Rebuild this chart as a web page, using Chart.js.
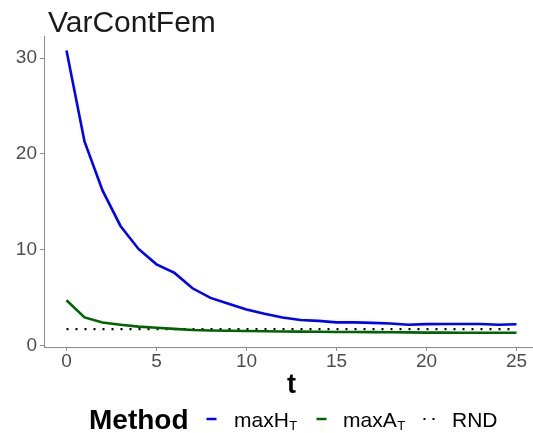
<!DOCTYPE html>
<html>
<head>
<meta charset="utf-8">
<script src="https://cdn.jsdelivr.net/npm/chart.js@4.4.1/dist/chart.umd.min.js"></script>
<style>
  html, body { margin: 0; padding: 0; overflow: hidden; background: #fff; }
  #wrap { width: 546px; height: 433px; }
</style>
</head>
<body>
<div id="wrap"><canvas id="c" width="546" height="433"></canvas></div>
<script>
// ---- Data ----
const chartTitle = "VarContFem";
const xAxisTitle = "t";
const legendTitle = "Method";
const tValues = [0,1,2,3,4,5,6,7,8,9,10,11,12,13,14,15,16,17,18,19,20,21,22,23,24,25];
const maxH = [30.8, 21.3, 16.2, 12.5, 10.1, 8.5, 7.6, 6.0, 5.0, 4.4, 3.8, 3.35, 2.95, 2.7, 2.6, 2.45, 2.45, 2.4, 2.33, 2.2, 2.26, 2.28, 2.28, 2.28, 2.2, 2.25];
const maxA = [4.76, 2.96, 2.43, 2.2, 2.0, 1.88, 1.77, 1.65, 1.6, 1.57, 1.55, 1.52, 1.5, 1.48, 1.47, 1.45, 1.44, 1.43, 1.42, 1.4, 1.38, 1.38, 1.37, 1.37, 1.36, 1.36];
const rnd = [1.75, 1.75, 1.75, 1.75, 1.75, 1.75, 1.75, 1.75, 1.75, 1.75, 1.75, 1.75, 1.75, 1.75, 1.75, 1.75, 1.75, 1.75, 1.75, 1.75, 1.75, 1.75, 1.75, 1.75, 1.75, 1.75];
const xTicks = [0, 5, 10, 15, 20, 25];
const yTicks = [0, 10, 20, 30];
const seriesNames = ["maxH", "maxA", "RND"];
const seriesSubs = ["T", "T", ""];

const toXY = arr => arr.map((v, i) => ({ x: tValues[i], y: v }));
const FONT = '"Liberation Sans", Arial, Helvetica, sans-serif';
const AXIS_GREY = '#8c8c8c';
const TICK_TEXT = '#4d4d4d';

const decorPlugin = {
  id: 'decor',
  afterDraw(chart) {
    const ctx = chart.ctx;
    const ca = chart.chartArea;
    ctx.save();
    // Title
    ctx.fillStyle = '#1a1a1a';
    ctx.textAlign = 'left';
    ctx.textBaseline = 'alphabetic';
    ctx.font = '30px ' + FONT;
    ctx.fillText(chartTitle, 48, 32);
    // x axis title
    ctx.fillStyle = '#000';
    ctx.font = 'bold 27px ' + FONT;
    ctx.textAlign = 'center';
    ctx.fillText(xAxisTitle, (ca.left + ca.right) / 2, 393);
    // Legend
    ctx.textAlign = 'left';
    ctx.font = 'bold 28px ' + FONT;
    ctx.fillText(legendTitle, 89, 429);
    const ly = 419;
    const keyX = [206.5, 316.5, 423.5];
    const textX = [234, 343, 452];
    const colors = ['#0000ff', '#006400', '#000000'];
    for (let i = 0; i < 3; i++) {
      if (i < 2) {
        ctx.strokeStyle = colors[i];
        ctx.lineWidth = 2.5;
        ctx.beginPath();
        ctx.moveTo(keyX[i], ly);
        ctx.lineTo(keyX[i] + 10, ly);
        ctx.stroke();
      } else {
        ctx.fillStyle = '#000';
        ctx.fillRect(keyX[i], ly - 1, 2, 2);
        ctx.fillRect(keyX[i] + 9, ly - 1, 2, 2);
      }
      ctx.fillStyle = '#000';
      ctx.font = '21px ' + FONT;
      ctx.fillText(seriesNames[i], textX[i], 426.5);
      if (seriesSubs[i]) {
        const w = ctx.measureText(seriesNames[i]).width;
        ctx.font = '13px ' + FONT;
        ctx.fillText(seriesSubs[i], textX[i] + w + 0.5, 430);
      }
    }
    ctx.restore();
  }
};

new Chart(document.getElementById('c'), {
  type: 'line',
  data: {
    datasets: [
      { label: 'maxH_T', data: toXY(maxH), borderColor: '#0000ff', borderWidth: 2.6, pointRadius: 0, tension: 0, fill: false },
      { label: 'maxA_T', data: toXY(maxA), borderColor: '#006400', borderWidth: 2.6, pointRadius: 0, tension: 0, fill: false },
      { label: 'RND', data: toXY(rnd), borderColor: '#000000', borderWidth: 2.2, borderDash: [2, 7], borderCapStyle: 'butt', pointRadius: 0, tension: 0, fill: false }
    ]
  },
  options: {
    responsive: false,
    devicePixelRatio: 1,
    animation: false,
    layout: { padding: { left: 0, right: 7, top: 36, bottom: 0 } },
    plugins: { legend: { display: false }, title: { display: false }, tooltip: { enabled: false } },
    scales: {
      x: {
        type: 'linear',
        min: -1.25,
        max: 26.25,
        afterBuildTicks: s => { s.ticks = xTicks.map(v => ({ value: v })); },
        afterFit: s => { s.height = 86; },
        grid: { display: true, drawOnChartArea: false, drawTicks: true, tickLength: 4, tickColor: AXIS_GREY, tickWidth: 1 },
        border: { display: true, color: AXIS_GREY, width: 1 },
        ticks: { color: TICK_TEXT, font: { family: FONT, size: 19 }, padding: -1, maxRotation: 0, autoSkip: false }
      },
      y: {
        type: 'linear',
        min: -0.12,
        max: 32.3,
        afterBuildTicks: s => { s.ticks = yTicks.map(v => ({ value: v })); },
        afterFit: s => { s.width = 44; },
        grid: { display: true, drawOnChartArea: false, drawTicks: true, tickLength: 4, tickColor: AXIS_GREY, tickWidth: 1 },
        border: { display: true, color: AXIS_GREY, width: 1 },
        ticks: { color: TICK_TEXT, font: { family: FONT, size: 19 }, padding: 3, autoSkip: false }
      }
    }
  },
  plugins: [decorPlugin]
});
</script>
</body>
</html>
